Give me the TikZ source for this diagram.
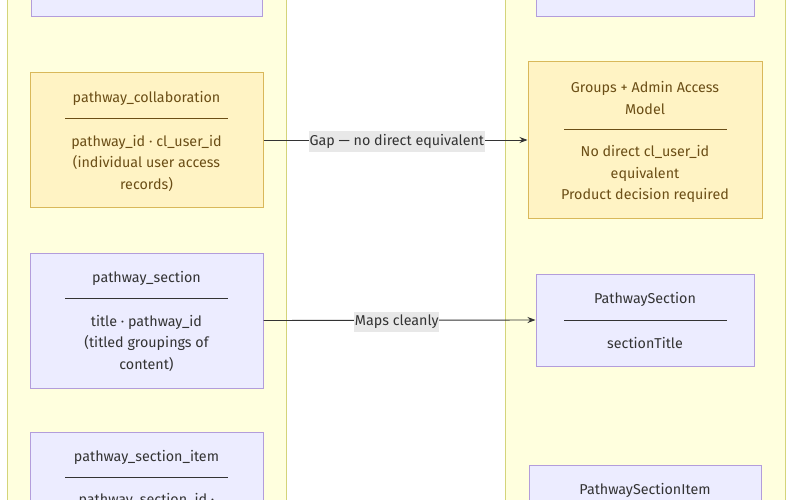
\documentclass[tikz,border=0pt]{standalone}
\usepackage{fontspec}
\setmainfont{Fira Sans}
\usetikzlibrary{arrows.meta}
\definecolor{clfill}{HTML}{FFFFDE}
\definecolor{cldraw}{HTML}{D4D47A}
\definecolor{pfill}{HTML}{ECECFF}
\definecolor{pdraw}{HTML}{B39DDB}
\definecolor{yfill}{HTML}{FFF3C4}
\definecolor{ydraw}{HTML}{D9B85A}
\definecolor{ytext}{HTML}{6B4E16}
\definecolor{ptext}{HTML}{333333}
\definecolor{lblbg}{HTML}{E8E8E8}
\begin{document}
\begin{tikzpicture}[x=1pt,y=-1pt,
  every node/.style={inner sep=0pt, font=\fontsize{14.3}{21.5}\selectfont},
  cluster/.style={fill=clfill, draw=cldraw, line width=1pt},
  pbox/.style={rectangle, fill=pfill, draw=pdraw, line width=1pt},
  ybox/.style={rectangle, fill=yfill, draw=ydraw, line width=1pt},
  ptxt/.style={text=ptext, align=center},
  ytxt/.style={text=ytext, align=center},
  pdiv/.style={draw=ptext, line width=0.9pt},
  ydiv/.style={draw=ytext, line width=0.9pt},
  edge/.style={draw=ptext, line width=0.9pt, -{Stealth[length=8pt,width=6pt]}},
  lbl/.style={fill=lblbg, text=ptext, inner xsep=0.5pt, inner ysep=3pt, yshift=-1.5pt}]
\useasboundingbox (0,0) rectangle (800,500);
\clip (0,0) rectangle (800,500);
\fill[white] (0,0) rectangle (800,500);
% clusters
\draw[cluster] (7,-10) rectangle (286,510);
\draw[cluster] (505,-10) rectangle (785,510);
% partial top boxes
\node[pbox, minimum width=231pt, minimum height=60pt, anchor=south west] (tl) at (31,17) {};
\node[pbox, minimum width=218pt, minimum height=60pt, anchor=south west] (tr) at (536,17) {};
% pathway_collaboration
\node[ybox, minimum width=233pt, minimum height=134pt] (collab) at (146.5,140) {};
\node[ytxt] (collabT) at (146.5,98.5) {pathway\_collaboration};
\draw[ydiv] (65,118) -- (228,118);
\node[ytxt] (collabB) at (146.5,163) {pathway\_id · cl\_user\_id\\(individual user access\\records)};
% Groups + Admin
\node[ybox, minimum width=234pt, minimum height=156pt] (groups) at (645,140) {};
\node[ytxt] (groupsT) at (645,98) {Groups + Admin Access\\Model};
\draw[ydiv] (564,129) -- (727,129);
\node[ytxt] (groupsB) at (645,174) {No direct cl\_user\_id\\equivalent\\Product decision required};
% pathway_section
\node[pbox, minimum width=233pt, minimum height=135pt] (sec) at (146.5,320.5) {};
\node[ptxt] (secT) at (146.5,278.5) {pathway\_section};
\draw[pdiv] (65,298) -- (228,298);
\node[ptxt] (secB) at (146.5,343) {title · pathway\_id\\(titled groupings of\\content)};
% PathwaySection
\node[pbox, minimum width=218pt, minimum height=92pt] (Sec) at (645,320) {};
\node[ptxt] (SecT) at (645,299.5) {PathwaySection};
\draw[pdiv] (564,320) -- (727,320);
\node[ptxt] (SecB) at (645,343) {sectionTitle};
% pathway_section_item
\node[pbox, minimum width=233pt, minimum height=120pt, anchor=north west] (item) at (30,432) {};
\node[ptxt] (itemT) at (146.5,457.5) {pathway\_section\_item};
\draw[pdiv] (65,477) -- (228,477);
\node[ptxt] (itemB) at (146.5,500.5) {pathway\_section\_id ·};
% PathwaySectionItem
\node[pbox, minimum width=232pt, minimum height=80pt, anchor=north west] (Item) at (529,465) {};
\node[ptxt] (ItemT) at (645,490) {PathwaySectionItem};
% edges
\draw[edge] (collab.east) -- (groups.west) node[lbl, pos=0.505] (e1) {Gap — no direct equivalent};
\draw[edge] (sec.east) -- (Sec.west) node[lbl, pos=0.49] (e2) {Maps cleanly};
\end{tikzpicture}
\end{document}
